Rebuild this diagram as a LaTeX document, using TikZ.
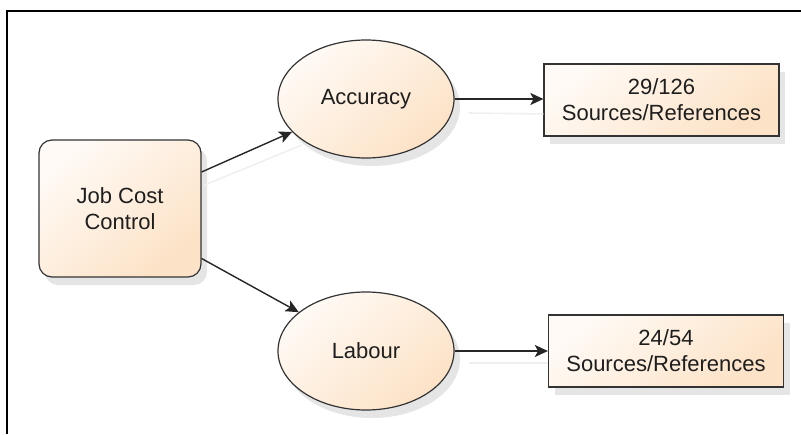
\documentclass[tikz,border=0pt]{standalone}
\usepackage{fontspec}
\setmainfont{Liberation Sans}
\usetikzlibrary{shapes.geometric,shadows,arrows.meta}
\definecolor{fillA}{HTML}{FFFAF5}
\definecolor{fillB}{HTML}{FCE2C6}
\definecolor{txt}{HTML}{1E1E1E}
\tikzset{
  shade/.style={top color=fillA, bottom color=fillB, shading angle=40,
    draw=black!80, line width=1.2pt, text=txt,
    font=\fontsize{22}{26}\selectfont, align=center, inner sep=0pt,
    drop shadow={shadow xshift=6pt, shadow yshift=-8pt, opacity=0.10, fill=black}},
  jobbox/.style={shade, rectangle, rounded corners=13pt, minimum width=162pt, minimum height=137pt},
  oval/.style={shade, ellipse, minimum width=176pt, minimum height=118pt},
  srcbox/.style={shade, rectangle, minimum width=235pt, minimum height=72pt},
  conn/.style={line width=1.4pt, draw=black!85, -{Stealth[length=13pt,width=12pt,inset=3pt]}},
  ghost/.style={line width=1.6pt, draw=black!6}
}
\begin{document}
\begin{tikzpicture}[x=1pt,y=-1pt]
\useasboundingbox (0,0) rectangle (801,434);
\draw[line width=2pt] (7,434) -- (7,11) -- (801,11);
\node[jobbox] (job) at (120,208.5) {Job Cost\\Control};
\node[oval] (acc) at (366,99) {Accuracy};
\node[oval] (lab) at (366,351) {Labour};
\node[srcbox] (s1) at (661.5,100) {29/126\\Sources/References};
\node[srcbox] (s2) at (666,351) {24/54\\Sources/References};
\coordinate (j1) at ([yshift=36.5pt]job.east);
\coordinate (j2) at ([yshift=-50pt]job.east);
% faint connector shadows
\draw[ghost] ([shift={(3pt,-13pt)}]j1) -- ([shift={(10pt,-13pt)}]acc.204);
\draw[ghost] ([shift={(14pt,-14pt)}]acc.east) -- ([shift={(0pt,-14pt)}]s1.west);
\draw[ghost] ([shift={(14pt,-12pt)}]lab.east) -- ([shift={(0pt,-12pt)}]s2.west);
% connectors
\draw[conn] (j1) -- (acc.204);
\draw[conn] (j2) -- (lab.150);
\draw[conn] (acc.east) -- (s1.west |- acc.east);
\draw[conn] (lab.east) -- (s2.west |- lab.east);
\end{tikzpicture}
\end{document}
